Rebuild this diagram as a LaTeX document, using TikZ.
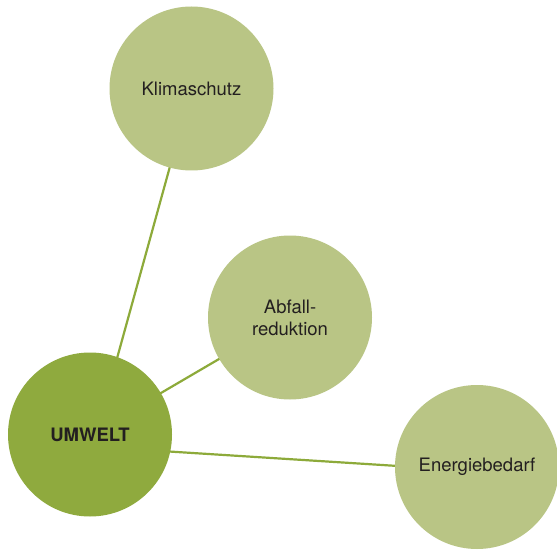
\documentclass[tikz,border=0pt]{standalone}
\usepackage{fontspec}
\setmainfont{TeX Gyre Heros}
\definecolor{darkgreen}{HTML}{8FAA3E}
\definecolor{lightgreen}{HTML}{B9C585}
\definecolor{linegreen}{HTML}{8DAA3A}
\definecolor{txt}{HTML}{231F20}
\begin{document}
\begin{tikzpicture}[x=1pt,y=1pt,
  bubble/.style={circle,fill=lightgreen,minimum size=164pt,inner sep=0pt,text=txt,font=\fontsize{18.5}{22}\selectfont,align=center},
  mainbubble/.style={bubble,fill=darkgreen,font=\fontsize{18.5}{22}\selectfont\bfseries},
  link/.style={draw=linegreen,line width=2.2pt}]
\useasboundingbox (0,0) rectangle (557,550);
\fill[white] (0,0) rectangle (557,550);
\coordinate (kc) at (191.5,461.5);
\coordinate (ac) at (290,232.5);
\coordinate (uc) at (90,115.5);
\coordinate (ec) at (477,83);
\path (uc) ++(6,0) coordinate (uk);
\path (uc) ++(0,-12) coordinate (us);
\path (ec) ++(0,-4) coordinate (es);
\draw[link] (uk) -- (kc);
\draw[link] (uc) -- (ac);
\draw[link] (us) -- (es);
\node[bubble] (k) at (kc) {Klimaschutz};
\node[bubble] (a) at (ac) {Abfall-\\reduktion};
\node[mainbubble] (u) at (uc) {UMWELT};
\node[bubble] (e) at (ec) {Energiebedarf};
\end{tikzpicture}
\end{document}
